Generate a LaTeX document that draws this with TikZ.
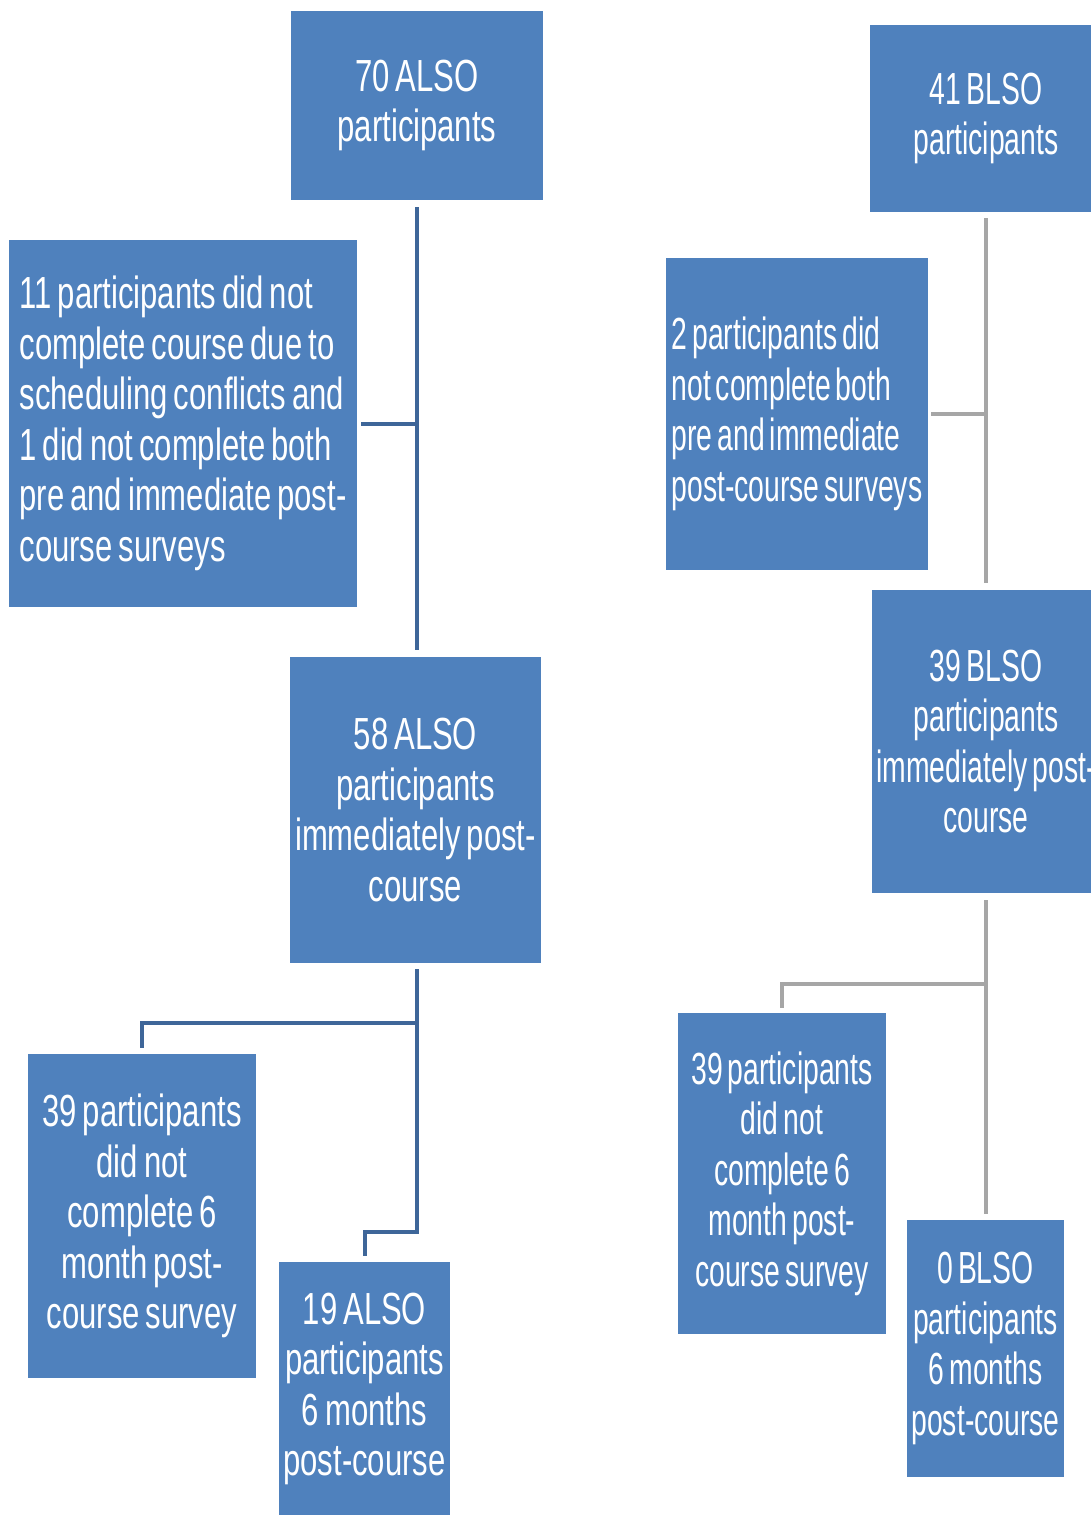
\documentclass[tikz,border=0pt]{standalone}
\usepackage{fontspec}
\newfontfamily\nar[FakeStretch=0.69, WordSpace=0.69]{Liberation Sans}
\newfontfamily\narb[FakeStretch=0.63, WordSpace=0.63]{Liberation Sans}
\definecolor{boxblue}{HTML}{4F81BD}
\definecolor{lblue}{HTML}{3E6699}
\definecolor{lgray}{HTML}{A6A6A6}
\begin{document}
\begin{tikzpicture}[x=1pt,y=-1pt,
  box/.style={draw=none, fill=boxblue, text=white, font=\nar\fontsize{45}{50.5}\selectfont,
    inner sep=0pt, outer sep=0pt, align=center, anchor=center},
  bbox/.style={box, font=\narb\fontsize{45}{50.5}\selectfont},
  leftbox/.style={box, align=left},
  bleftbox/.style={bbox, align=left},
  lline/.style={draw=lblue, line width=4pt},
  rline/.style={draw=lgray, line width=4pt}]
\useasboundingbox (0,0) rectangle (1091,1515);
% ALSO column
\node[box, minimum width=252pt, minimum height=189pt] (A1) at (417,105.5) {70 ALSO\\participants};
\node[leftbox, minimum width=348pt, minimum height=367pt] (A2) at (183,423.5)
  {11 participants did not\\complete course due to\\scheduling conflicts and\\1 did not complete both\\pre and immediate post-\\course surveys};
\node[box, minimum width=251pt, minimum height=306pt] (A3) at (415.5,810) {58 ALSO\\participants\\immediately post-\\course};
\node[box, minimum width=228pt, minimum height=324pt] (A4) at (142,1216) {39 participants\\did not\\complete 6\\month post-\\course survey};
\node[box, minimum width=171pt, minimum height=254pt] (A5) at (364.5,1389) {19 ALSO\\participants\\6 months\\post-course};
% BLSO column
\node[bbox, minimum width=232pt, minimum height=187pt] (B1) at (986,118.5) {41 BLSO\\participants};
\node[bleftbox, minimum width=262pt, minimum height=312pt] (B2) at (797,414)
  {2 participants did\\not complete both\\pre and immediate\\post-course surveys};
\node[bbox, minimum width=228pt, minimum height=303pt] (B3) at (986,741.5) {39 BLSO\\participants\\immediately post-\\course};
\node[bbox, minimum width=208pt, minimum height=321pt] (B4) at (782,1173.5) {39 participants\\did not\\complete 6\\month post-\\course survey};
\node[bbox, minimum width=157pt, minimum height=257pt] (B5) at (985.5,1348.5) {0 BLSO\\participants\\6 months\\post-course};
% junction points
\coordinate (lj1) at (417,1023);
\coordinate (lj2) at (417,1232);
\coordinate (rj) at (986,984);
% ALSO connectors
\draw[lline, shorten <=7pt, shorten >=7pt] (A1.south) -- (A1.south |- A3.north);
\draw[lline, shorten <=4pt] (A2.east) -- (A1.south |- A2.east);
\draw[lline, shorten <=6pt, shorten >=6pt] (A3.south -| lj1) -- (lj2) -| (A5.north);
\draw[lline, shorten >=6pt] (lj1) -| (A4.north);
% BLSO connectors
\draw[rline, shorten <=6pt, shorten >=7pt] (B1.south -| rj) -- (rj |- B3.north);
\draw[rline, shorten <=3pt] (B2.east) -- (rj |- B2.east);
\draw[rline, shorten <=7pt, shorten >=6pt] (B3.south -| rj) -- (rj |- B5.north);
\draw[rline, shorten >=5pt] (rj) -| (B4.north);
\end{tikzpicture}
\end{document}
